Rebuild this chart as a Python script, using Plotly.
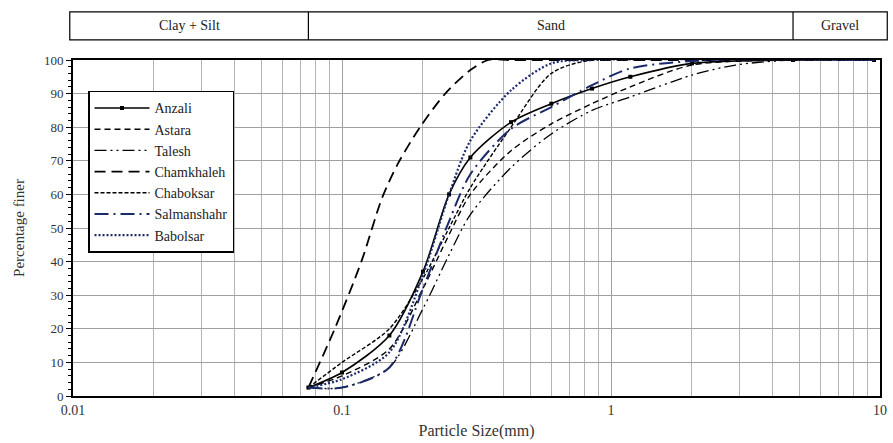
import math
import plotly.graph_objects as go

# Grain-size distribution (percentage finer vs particle size, mm)
anzali_x = [0.075, 0.1, 0.15, 0.2, 0.25, 0.3, 0.425, 0.6, 0.85, 1.18, 2.0, 4.75, 9.5]
anzali_y = [2.5, 7, 18, 37, 60, 71, 81.5, 87, 91.5, 95, 99, 100, 100]

astara_x = [0.075, 0.1, 0.15, 0.2, 0.25, 0.3, 0.425, 0.6, 0.85, 1.18, 2.0, 4.75, 9.5]
astara_y = [2.5, 6, 14, 32, 48, 60, 73, 81, 87, 92, 98.5, 100, 100]

talesh_x = [0.075, 0.1, 0.15, 0.2, 0.25, 0.3, 0.425, 0.6, 0.85, 1.18, 2.0, 2.9, 4.75, 9.5]
talesh_y = [2.5, 2.5, 8.5, 26, 42, 54, 68, 78, 85, 89, 95.5, 98.5, 100, 100]

chamkhaleh_x = [0.075, 0.094, 0.118, 0.141, 0.161, 0.195, 0.242, 0.3, 0.35, 0.425, 9.5]
chamkhaleh_y = [2.5, 20, 40, 59, 69, 80, 90, 97, 100, 100, 100]

chaboksar_x = [0.075, 0.1, 0.15, 0.2, 0.25, 0.3, 0.425, 0.6, 0.85, 9.5]
chaboksar_y = [2.5, 10, 20, 35, 50, 62, 80, 96, 100, 100]

salmanshahr_x = [0.075, 0.1, 0.15, 0.2, 0.25, 0.3, 0.425, 0.6, 0.85, 1.18, 2.36, 9.5]
salmanshahr_y = [2.5, 2.5, 8.5, 32, 52, 66, 79.5, 86, 92.5, 97.5, 100, 100]

babolsar_x = [0.075, 0.1, 0.15, 0.2, 0.25, 0.3, 0.425, 0.6, 0.85, 9.5]
babolsar_y = [2.5, 5, 13, 36, 60, 76, 91, 99, 100, 100]

# Soil class bands along the top (boundaries in mm)
x_min, x_max = 0.01, 10
silt_sand = 0.075
sand_gravel = 4.75
band_labels = ["Clay + Silt", "Sand", "Gravel"]

x_major = [0.01, 0.1, 1, 10]
x_major_text = ["0.01", "0.1", "1", "10"]
x_minor = [m * d for d in (0.01, 0.1, 1) for m in range(2, 10)]

NAVY = "#1b2a6b"
SERIF = "Liberation Serif"

series = [
    ("Anzali", anzali_x, anzali_y, dict(color="black", width=1.6, dash="solid"), True),
    ("Astara", astara_x, astara_y, dict(color="black", width=1.4, dash="6px,4px"), False),
    ("Talesh", talesh_x, talesh_y, dict(color="black", width=1.3, dash="12px,4px,2px,4px,2px,4px"), False),
    ("Chamkhaleh", chamkhaleh_x, chamkhaleh_y, dict(color="black", width=1.8, dash="11px,6px"), False),
    ("Chaboksar", chaboksar_x, chaboksar_y, dict(color="black", width=1.4, dash="4px,2px"), False),
    ("Salmanshahr", salmanshahr_x, salmanshahr_y, dict(color=NAVY, width=2, dash="14px,5px,2px,5px"), False),
    ("Babolsar", babolsar_x, babolsar_y, dict(color=NAVY, width=2.2, dash="2px,2px"), False),
]

fig = go.Figure()
for i, (name, xs, ys, line, with_markers) in enumerate(series):
    fig.add_trace(go.Scatter(
        x=xs, y=ys, name=name,
        mode="lines+markers" if with_markers else "lines",
        line=dict(shape="spline", smoothing=0.8, **line),
        marker=dict(symbol="square", size=4, color="black"),
    ))

band_y0, band_y1 = 1.06, 1.143
shapes = []
# Outer box of the class band
shapes.append(dict(type="rect", xref="paper", yref="paper",
                   x0=-0.004, x1=1.009, y0=band_y0, y1=band_y1,
                   line=dict(color="black", width=1.2), fillcolor="rgba(0,0,0,0)"))
# Class boundaries inside the band
for b in (silt_sand, sand_gravel):
    shapes.append(dict(type="line", xref="x", yref="paper",
                       x0=b, x1=b, y0=band_y0, y1=band_y1,
                       line=dict(color="black", width=1.2)))

annotations = []
centers = [
    (math.log10(x_min) - 0.012 + math.log10(silt_sand)) / 2,
    (math.log10(silt_sand) + math.log10(sand_gravel)) / 2,
    (math.log10(sand_gravel) + math.log10(x_max) + 0.026) / 2,
]
for label, c in zip(band_labels, centers):
    annotations.append(dict(text=label, x=c, xref="x", y=(band_y0 + band_y1) / 2, yref="paper",
                            xanchor="center", yanchor="middle",
                            showarrow=False, font=dict(family=SERIF, size=14, color="#222")))

fig.update_layout(
    width=893, height=443,
    margin=dict(l=73, r=13, t=60, b=47),
    paper_bgcolor="white", plot_bgcolor="white",
    shapes=shapes, annotations=annotations,
    showlegend=True,
    legend=dict(x=0.0186, y=0.908, xanchor="left", yanchor="top",
                bgcolor="white", bordercolor="black", borderwidth=1.5,
                font=dict(family=SERIF, size=14, color="#222"),
                tracegroupgap=0, itemwidth=55),
    xaxis=dict(type="log", range=[math.log10(x_min), math.log10(x_max)],
               tickvals=x_major, ticktext=x_major_text,
               showgrid=True, gridcolor="#a0a0a0", gridwidth=1,
               minor=dict(tickvals=x_minor, showgrid=True, gridcolor="#b4b4b4", gridwidth=1),
               showline=True, linecolor="black", linewidth=2, mirror=True,
               ticks="", zeroline=False, automargin=False,
               tickfont=dict(family=SERIF, size=14, color="#333"),
               title=dict(text="Particle Size(mm)", font=dict(family=SERIF, size=16, color="#333"),
                          standoff=8)),
    yaxis=dict(range=[0, 100], dtick=10, tick0=0,
               showgrid=True, gridcolor="#a0a0a0", gridwidth=1,
               minor=dict(dtick=2, ticks="outside", ticklen=3, tickcolor="black", showgrid=False),
               showline=True, linecolor="black", linewidth=2, mirror=True,
               ticks="outside", ticklen=5, tickcolor="black", zeroline=False, automargin=False,
               tickfont=dict(family=SERIF, size=13, color="#333"),
               title=dict(text="Percentage finer", font=dict(family=SERIF, size=15, color="#333"),
                          standoff=16)),
)

fig.write_html("out.html")
